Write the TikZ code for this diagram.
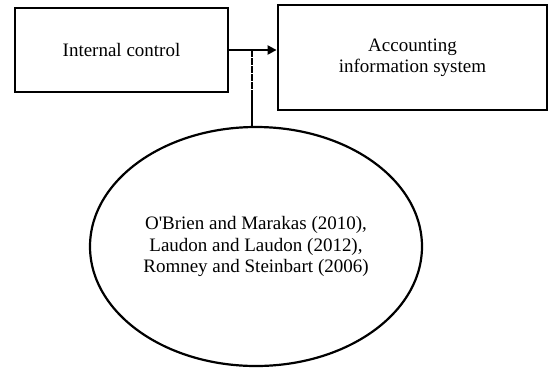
\documentclass[tikz,border=0pt]{standalone}
\usepackage{fontspec}
\setmainfont{Liberation Serif}
\usetikzlibrary{arrows.meta,shapes.geometric}
\begin{document}
\begin{tikzpicture}[x=1pt,y=-1pt,
  box/.style={draw,line width=2.8pt,inner sep=0pt,align=center,font=\fontsize{19}{21}\selectfont},
  conn/.style={line width=2.2pt},
  arr/.style={conn,-{Triangle[length=9pt,width=9pt]}},
  oval/.style={draw,ellipse,line width=2.2pt,inner sep=0pt,align=center,font=\fontsize{19}{21.5}\selectfont}]
\useasboundingbox (0,0) rectangle (550,368);
\node[box,minimum width=213pt,minimum height=84pt] (ic) at (121.5,50) {Internal control};
\node[box,minimum width=269pt,minimum height=105pt] (ais) at (412.5,57.5) {Accounting\\information system};
\node[oval,minimum width=332pt,minimum height=239pt] (ell) at (256,246.5) {O\textquotesingle Brien and Marakas (2010),\\Laudon and Laudon (2012),\\Romney and Steinbart (2006)};
\draw[arr] (ic.east) -- (ic.east -| ais.west);
\coordinate (j) at (252,50);
\coordinate (jm) at (252,90);
\draw[conn,dash pattern=on 7pt off 1pt] (j) -- (jm);
\draw[conn] (jm) -- (j |- ell.north);
\end{tikzpicture}
\end{document}
